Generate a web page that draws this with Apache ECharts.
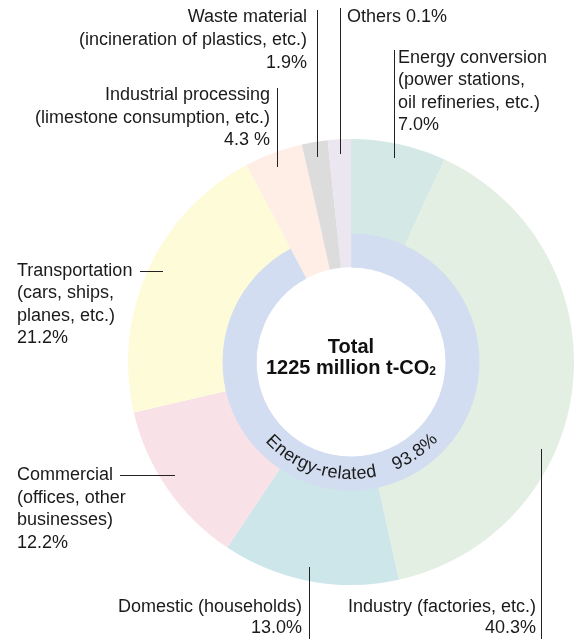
<!DOCTYPE html>
<html>
<head>
<meta charset="utf-8">
<script src="https://cdn.jsdelivr.net/npm/echarts@6/dist/echarts.min.js"></script>
<style>
  html, body { margin: 0; padding: 0; background: #fff; }
  #chart { width: 584px; height: 639px; }
</style>
</head>
<body>
<div id="chart"></div>
<script>
// ---- data ----
const categories = ['Energy conversion', 'Industry', 'Domestic', 'Commercial', 'Transportation', 'Industrial processing', 'Waste material', 'Others'];
const shares = [7.0, 40.3, 13.0, 12.2, 21.2, 4.3, 1.9, 0.1];
const energyRelated = [true, true, true, true, true, false, false, false];
const energyRelatedShare = 93.8;
const totalText = '1225 million t-CO';
const labelLines = [
  ['Energy conversion', '(power stations,', 'oil refineries, etc.)', '7.0%'],
  ['Industry (factories, etc.)', '40.3%'],
  ['Domestic (households)', '13.0%'],
  ['Commercial', '(offices, other', 'businesses)', '12.2%'],
  ['Transportation', '(cars, ships,', 'planes, etc.)', '21.2%'],
  ['Industrial processing', '(limestone consumption, etc.)', '4.3 %'],
  ['Waste material', '(incineration of plastics, etc.)', '1.9%'],
  ['Others 0.1%']
];

// ---- styles ----
const colors = ['#d4e8e5', '#e3efe3', '#cce6ea', '#f9e1e8', '#fefbd9', '#feeee6', '#dcdcdc', '#ebe6ef'];
const ringBlue = '#d3ddf1';
const FONT = 'Arial, "Liberation Sans", Helvetica, sans-serif';
const CX = 351, CY = 362;
const textColor = '#1a1a1a';
const ZTOP = 50;

const chart = echarts.init(document.getElementById('chart'), null, { renderer: 'canvas' });

const outerData = categories.map((c, i) => ({
  name: c, value: shares[i],
  itemStyle: { color: colors[i], borderWidth: 0 }
}));
const innerData = categories.map((c, i) => ({
  name: c, value: shares[i],
  itemStyle: energyRelated[i]
    ? { color: ringBlue, borderColor: ringBlue, borderWidth: 1 }
    : { color: colors[i], borderColor: colors[i], borderWidth: 0.5 }
}));

// label text blocks [align, x, firstLineCenterY, lineHeight]
const labelPos = [
  ['left', 398, 58, 22.4],
  ['right', 536, 607, 21.5],
  ['right', 302, 607, 21.5],
  ['left', 17, 475, 22.6],
  ['left', 17, 271, 22.4],
  ['right', 270, 95, 22.6],
  ['right', 307, 17.5, 23],
  ['left', 347, 17.5, 23]
];
// leader lines [x1,y1,x2,y2]
const leaderLines = [
  [394, 50, 394, 158],
  [541, 449, 541, 639],
  [309, 567, 309, 639],
  [120, 475, 175, 475],
  [140, 271, 163, 271],
  [277, 88, 277, 167],
  [317, 10, 317, 157],
  [340, 8, 340, 154]
];

const graphics = [];
labelLines.forEach((lines, i) => {
  const [align, x, y0, lh] = labelPos[i];
  graphics.push({
    type: 'text', x: x, y: y0 - lh / 2, silent: true, z: ZTOP,
    style: {
      text: lines.join('\n'), font: '18px ' + FONT, fill: textColor,
      align: align, textAlign: align, verticalAlign: 'top', textVerticalAlign: 'top', lineHeight: lh
    }
  });
});
leaderLines.forEach(l => {
  const hor = l[1] === l[3];
  graphics.push({
    type: 'line', silent: true, z: ZTOP,
    shape: { x1: hor ? l[0] : l[0] + 0.5, y1: hor ? l[1] + 0.5 : l[1], x2: hor ? l[2] : l[2] + 0.5, y2: hor ? l[3] + 0.5 : l[3] },
    style: { stroke: '#222', lineWidth: 1 }
  });
});

// center total text
graphics.push({
  type: 'text', x: CX, y: 357.5, silent: true, z: ZTOP,
  style: {
    text: 'Total\n' + totalText + '{s|2}',
    fontSize: 20, fontWeight: 'bold', fontFamily: FONT, fill: '#111',
    align: 'center', textAlign: 'center', verticalAlign: 'middle', textVerticalAlign: 'middle', lineHeight: 21,
    rich: { s: { fontSize: 12, fontWeight: 'bold', fontFamily: FONT, fill: '#111', padding: [8, 0, 0, 0], lineHeight: 21 } }
  }
});

// curved text along the blue ring
const measureCtx = document.createElement('canvas').getContext('2d');
function arcText(str, firstCenterDeg, r, fontSize) {
  const font = fontSize + 'px ' + FONT;
  measureCtx.font = font;
  const widths = Array.from(str).map(ch => measureCtx.measureText(ch).width);
  const phi0 = firstCenterDeg * Math.PI / 180;
  let off = 0;
  Array.from(str).forEach((ch, i) => {
    const centerOff = off + widths[i] / 2 - widths[0] / 2;
    const phi = phi0 - centerOff / r;
    off += widths[i];
    if (ch === ' ') return;
    graphics.push({
      type: 'text', silent: true, z: ZTOP,
      x: CX + r * Math.cos(phi), y: CY + r * Math.sin(phi),
      rotation: Math.PI / 2 - phi,
      style: {
        text: ch, font: font, fill: textColor,
        align: 'center', textAlign: 'center', verticalAlign: 'middle', textVerticalAlign: 'middle'
      }
    });
  });
}
arcText('Energy-related', 134.3, 112, 18);
arcText(energyRelatedShare.toFixed(1) + '%', 65.3, 112, 18);

chart.setOption({
  backgroundColor: '#ffffff',
  animation: false,
  series: [
    {
      type: 'pie', name: 'sources', center: [CX, CY], radius: [127, 223],
      startAngle: 90, clockwise: true, minAngle: 6, avoidLabelOverlap: false,
      silent: true, label: { show: false }, labelLine: { show: false },
      emphasis: { disabled: true },
      data: outerData, z: 1
    },
    {
      type: 'pie', name: 'energy', center: [CX, CY], radius: [95, 128],
      startAngle: 90, clockwise: true, minAngle: 6, avoidLabelOverlap: false,
      silent: true, label: { show: false }, labelLine: { show: false },
      emphasis: { disabled: true },
      data: innerData, z: 2
    }
  ],
  graphic: graphics
});
</script>
</body>
</html>
